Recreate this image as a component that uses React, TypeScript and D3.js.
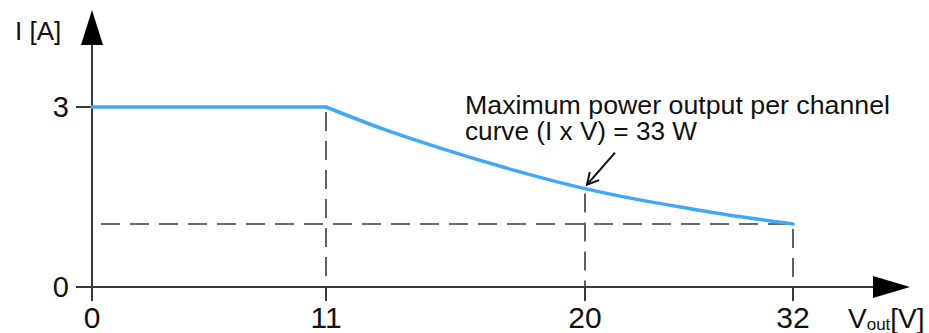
import React from "react";
import * as d3 from "d3";

// ---- data ----
const xTicks = [0, 11, 20, 32];
const yTicks = [0, 3];
const flatV = [0, 11];
const flatI = [3, 3];
const curveV = [11, 13, 15, 17, 20, 23, 26, 29, 32];
const curveI = [3, 2.63, 2.31, 2.02, 1.64, 1.46, 1.31, 1.17, 1.05];
const markV = [11, 20, 32];
const markI = [3, 1.64, 1.05];
const annotationLines = ["Maximum power output per channel", "curve (I x V) = 33 W"];
const yLabel = "I [A]";
const xLabelMain = "V";
const xLabelSub = "out";
const xLabelUnit = "[V]";

const W = 929;
const H = 333;

export default function App() {
  const x = d3.scaleLinear().domain(xTicks).range([92, 326, 585, 793]);
  const y = d3.scaleLinear().domain([0, 3]).range([287, 107]);
  const axisColor = "#3a3a3a";
  const blue = "#42a8f4";
  const font = "'Liberation Sans', Arial, sans-serif";

  const lineFlat = d3.line<number>().x((d, i) => x(flatV[i])).y((d) => y(d));
  const lineCurve = d3
    .line<number>()
    .x((d, i) => x(curveV[i]))
    .y((d) => y(d))
    .curve(d3.curveMonotoneX);

  const x0 = x(0);
  const y0 = y(0);

  // annotation arrow target
  const tx = x(20) + 2;
  const ty = y(1.64) - 4;
  const sx = tx + 28;
  const sy = ty - 32;
  const ang = Math.atan2(ty - sy, tx - sx);
  const hl = 13;
  const h1 = [tx - hl * Math.cos(ang - 0.5), ty - hl * Math.sin(ang - 0.5)];
  const h2 = [tx - hl * Math.cos(ang + 0.5), ty - hl * Math.sin(ang + 0.5)];

  const dash = "19 10";

  return (
    <svg
      width={W}
      height={H}
      style={{ position: "absolute", left: 0, top: 0, display: "block", background: "#fff" }}
    >
      {/* dashed guides */}
      {markV.map((v, i) => (
        <line
          key={"vd" + i}
          x1={x(v)}
          x2={x(v)}
          y1={y(markI[i]) + 5}
          y2={y0}
          stroke={axisColor}
          strokeWidth={1.6}
          strokeDasharray={dash}
        />
      ))}
      <line
        x1={x(32)}
        x2={x0}
        y1={y(1.05)}
        y2={y(1.05)}
        stroke={axisColor}
        strokeWidth={1.6}
        strokeDasharray={dash}
        strokeDashoffset={-6}
      />

      {/* axes */}
      <line x1={x0} x2={x0} y1={y0 + 14} y2={45} stroke={axisColor} strokeWidth={2} />
      <polygon points={`${x0 - 11},45 ${x0 + 11},45 ${x0},10`} fill="#000" />
      <line x1={76} x2={873} y1={y0} y2={y0} stroke={axisColor} strokeWidth={2} />
      <polygon points={`873,${y0 - 11} 873,${y0 + 11} 910,${y0}`} fill="#000" />

      {/* y ticks */}
      {yTicks.map((t) => (
        <g key={"yt" + t}>
          <line x1={76} x2={x0} y1={y(t)} y2={y(t)} stroke={axisColor} strokeWidth={2} />
          <text
            x={69}
            y={y(t) + 10}
            textAnchor="end"
            fontFamily={font}
            fontSize={29}
            fill="#111"
          >
            {t}
          </text>
        </g>
      ))}

      {/* x ticks */}
      {xTicks.map((t) => (
        <g key={"xt" + t}>
          <line x1={x(t)} x2={x(t)} y1={y0} y2={y0 + 14} stroke={axisColor} strokeWidth={2} />
          <text
            x={x(t)}
            y={328}
            textAnchor="middle"
            fontFamily={font}
            fontSize={30}
            fill="#111"
          >
            {t}
          </text>
        </g>
      ))}

      {/* curve */}
      <path d={lineFlat(flatI) || ""} fill="none" stroke={blue} strokeWidth={3.5} strokeLinecap="round" />
      <path d={lineCurve(curveI) || ""} fill="none" stroke={blue} strokeWidth={3.5} strokeLinecap="round" />

      {/* annotation */}
      {annotationLines.map((s, i) => (
        <text
          key={"an" + i}
          x={465}
          y={114 + i * 26}
          fontFamily={font}
          fontSize={25}
          fill="#111"
          textLength={i === 0 ? 425 : 232}
          lengthAdjust="spacingAndGlyphs"
        >
          {s}
        </text>
      ))}
      <line x1={sx} y1={sy} x2={tx} y2={ty} stroke="#111" strokeWidth={2} />
      <polyline
        points={`${h1[0]},${h1[1]} ${tx},${ty} ${h2[0]},${h2[1]}`}
        fill="none"
        stroke="#111"
        strokeWidth={2}
      />

      {/* axis labels */}
      <text x={15} y={40} fontFamily={font} fontSize={26} fill="#111">
        {yLabel}
      </text>
      <text x={848} y={328} fontFamily={font} fill="#111">
        <tspan fontSize={28}>{xLabelMain}</tspan>
        <tspan fontSize={17} dy={2}>{xLabelSub}</tspan>
        <tspan fontSize={28} dy={-2}>{xLabelUnit}</tspan>
      </text>
    </svg>
  );
}
